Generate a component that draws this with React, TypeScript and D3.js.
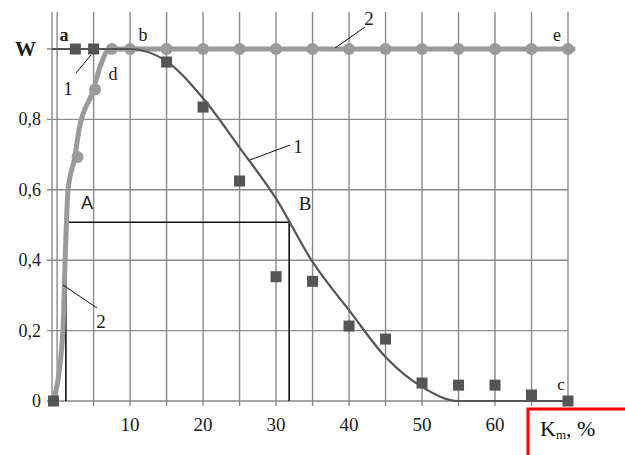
import React from "react";
import * as d3 from "d3";

const xTicks = [10, 20, 30, 40, 50, 60];
const xGrid = [0, 5, 10, 15, 20, 25, 30, 35, 40, 45, 50, 55, 60, 65, 70];
const yTicks = [0, 0.2, 0.4, 0.6, 0.8, 1.0];
const yTickLabels = ["0", "0,2", "0,4", "0,6", "0,8", "W"];

// Curve 1 (dark, squares)
const line1X = [-0.7, 2.5, 5, 10, 15, 20, 25, 30, 35, 40, 45, 50, 55, 70];
const line1Y = [1, 1, 1, 1, 0.965, 0.86, 0.72, 0.575, 0.395, 0.258, 0.125, 0.04, 0, 0];
const sqX = [-0.5, 2.5, 5, 15, 20, 25, 30, 35, 40, 45, 50, 55, 60, 65, 70];
const sqY = [0, 1, 1, 0.963, 0.835, 0.625, 0.353, 0.34, 0.213, 0.176, 0.051, 0.045, 0.045, 0.017, 0];

// Curve 2 (light, circles)
const line2X = [-0.5, 0.8, 1.1, 1.5, 2.4, 3.0, 4.9, 5.9, 7.2, 10, 71];
const line2Y = [0, 0.2, 0.4, 0.6, 0.69, 0.77, 0.88, 0.95, 1, 1, 1];
const circX = [2.8, 5.2, 7.5, 10, 15, 20, 25, 30, 35, 40, 45, 50, 55, 60, 65, 70];
const circY = [0.693, 0.885, 1, 1, 1, 1, 1, 1, 1, 1, 1, 1, 1, 1, 1, 1];

// Rectangle A-B
const rectX = [1.2, 31.8];
const rectY = 0.508;

const serif = "Liberation Serif, Times New Roman, DejaVu Serif, serif";

export default function App() {
  const W = 625, H = 455;
  const x = d3.scaleLinear().domain([-0.7, 70]).range([52, 568]);
  const y = d3.scaleLinear().domain([0, 1]).range([401, 49]);
  const yTop = 12;

  const l1 = d3.line<number>().x((_, i) => x(line1X[i])).y((_, i) => y(line1Y[i])).curve(d3.curveMonotoneX)(line1X) || "";
  const l2 = d3.line<number>().x((_, i) => x(line2X[i])).y((_, i) => y(line2Y[i])).curve(d3.curveMonotoneX)(line2X) || "";

  const sq = 11;
  const ts = { fontFamily: serif };
  return (
    <svg width={W} height={H} style={{ position: "absolute", left: 0, top: 0, background: "#fff" }}>
      <rect x={0} y={0} width={W} height={H} fill="#fff" />
      {/* grid */}
      {xGrid.map((v) => (
        <line key={"vx" + v} x1={x(v)} x2={x(v)} y1={yTop} y2={406} stroke="#8a8a8a" strokeWidth={1.4} />
      ))}
      <line x1={x(-0.7)} x2={x(-0.7)} y1={yTop} y2={406} stroke="#8a8a8a" strokeWidth={1.4} />
      {yTicks.map((v) => (
        <line key={"hy" + v} x1={x(-0.7) - 5} x2={x(70)} y1={y(v)} y2={y(v)} stroke="#8a8a8a" strokeWidth={1.4} />
      ))}
      {/* y labels */}
      {yTicks.map((v, i) => (
        <text key={"yl" + v} x={i === 5 ? 36 : 41} y={y(v)} textAnchor="end" dominantBaseline="central"
          style={ts} fontSize={i === 5 ? 21 : 18} fontWeight={i === 5 ? "bold" : "normal"} fill="#1a1a1a">
          {yTickLabels[i]}
        </text>
      ))}
      {/* x labels */}
      {xTicks.map((v) => (
        <text key={"xl" + v} x={x(v)} y={424} textAnchor="middle" dominantBaseline="central"
          style={ts} fontSize={19} fill="#1a1a1a">{v}</text>
      ))}
      {/* rectangle */}
      <polyline points={`${x(rectX[0])},${y(0)} ${x(rectX[0])},${y(rectY)} ${x(rectX[1])},${y(rectY)} ${x(rectX[1])},${y(0)}`}
        fill="none" stroke="#111" strokeWidth={1.6} />
      {/* curve 2 */}
      <path d={l2} fill="none" stroke="#9a9a9a" strokeWidth={5} />
      {circX.map((v, i) => (
        <circle key={"c" + i} cx={x(v)} cy={y(circY[i])} r={6} fill="#9a9a9a" />
      ))}
      {/* curve 1 */}
      <path d={l1} fill="none" stroke="#555" strokeWidth={2.2} />
      {sqX.map((v, i) => (
        <rect key={"s" + i} x={x(v) - sq / 2} y={y(sqY[i]) - sq / 2} width={sq} height={sq} fill="#555" />
      ))}
      {/* letter labels */}
      <g style={ts} fill="#1a1a1a">
        <text x={64} y={35} fontSize={18} textAnchor="middle" dominantBaseline="central" fontWeight="bold">a</text>
        <text x={143} y={35} fontSize={18} textAnchor="middle" dominantBaseline="central">b</text>
        <text x={113} y={74} fontSize={18} textAnchor="middle" dominantBaseline="central">d</text>
        <text x={557} y={35} fontSize={18} textAnchor="middle" dominantBaseline="central">e</text>
        <text x={561} y={384} fontSize={17} textAnchor="middle" dominantBaseline="central">c</text>
        <text x={87} y={203} fontSize={18} textAnchor="middle" dominantBaseline="central" style={{ fontFamily: "Liberation Sans, Arial, sans-serif" }}>A</text>
        <text x={305} y={203} fontSize={19} textAnchor="middle" dominantBaseline="central">B</text>
        <text x={68} y={88} fontSize={19} textAnchor="middle" dominantBaseline="central">1</text>
        <text x={369} y={18} fontSize={19} textAnchor="middle" dominantBaseline="central">2</text>
        <text x={298} y={146} fontSize={19} textAnchor="middle" dominantBaseline="central">1</text>
        <text x={101} y={321} fontSize={19} textAnchor="middle" dominantBaseline="central">2</text>
      </g>
      {/* leaders */}
      <g stroke="#111" strokeWidth={1}>
        <line x1={76} y1={73} x2={91} y2={55} />
        <line x1={335} y1={48} x2={365} y2={27} />
        <line x1={250} y1={160} x2={290} y2={145} />
        <line x1={63} y1={285} x2={97} y2={308} />
      </g>
      {/* red box */}
      <rect x={528} y={409} width={110} height={60} fill="#fff" stroke="#ff0000" strokeWidth={3} />
      <text x={540} y={436} style={ts} fontSize={22} fill="#111">
        K<tspan fontSize={13} dy={3}>m</tspan><tspan dy={-3}>, %</tspan>
      </text>
    </svg>
  );
}
